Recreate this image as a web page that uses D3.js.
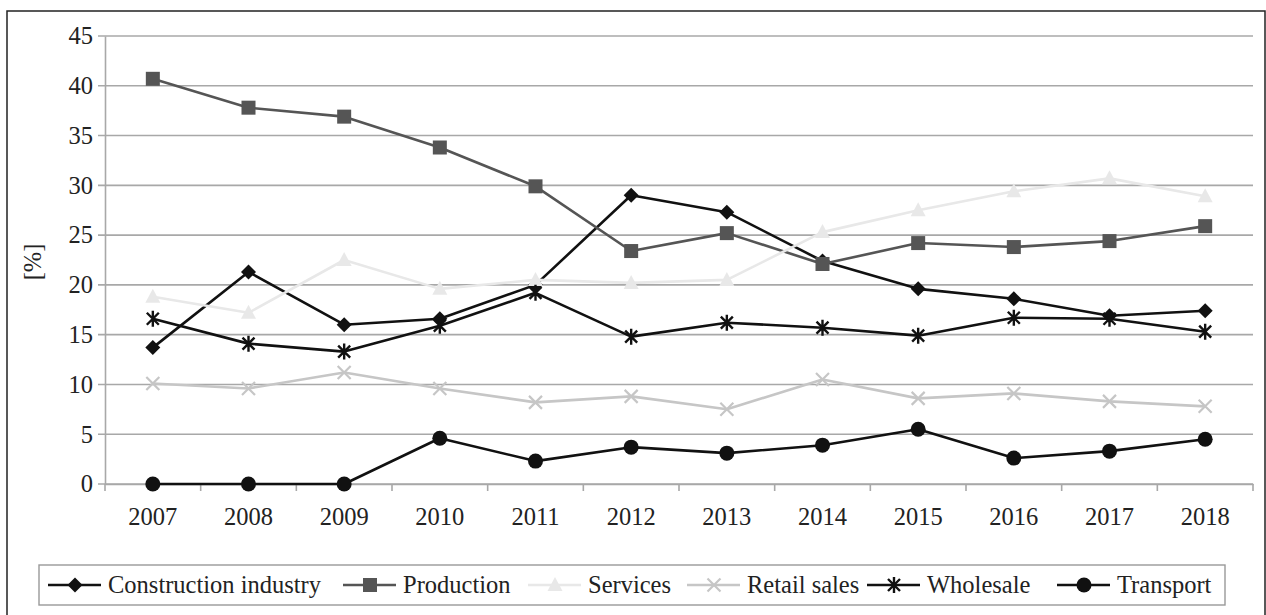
<!DOCTYPE html>
<html>
<head>
<meta charset="utf-8">
<script src="https://cdn.jsdelivr.net/npm/d3@7"></script>
<style>
	body { margin: 0; background: #fff; }
	svg text { font-family: "Liberation Serif", "Times New Roman", Times, "DejaVu Serif", serif !important; }
</style>
</head>
<body>
<div id="chart"></div>
<script>
/*
*	Data
*/
var years = ['2007', '2008', '2009', '2010', '2011', '2012', '2013', '2014', '2015', '2016', '2017', '2018'];
var yTicks = [0, 5, 10, 15, 20, 25, 30, 35, 40, 45];

var construction = [13.7, 21.3, 16.0, 16.6, 20.0, 29.0, 27.3, 22.4, 19.6, 18.6, 16.9, 17.4];
var production = [40.7, 37.8, 36.9, 33.8, 29.9, 23.4, 25.2, 22.1, 24.2, 23.8, 24.4, 25.9];
var services = [18.8, 17.2, 22.5, 19.6, 20.5, 20.2, 20.5, 25.3, 27.5, 29.4, 30.7, 28.9];
var retail = [10.1, 9.6, 11.2, 9.6, 8.2, 8.8, 7.5, 10.5, 8.6, 9.1, 8.3, 7.8];
var wholesale = [16.6, 14.1, 13.3, 15.9, 19.2, 14.8, 16.2, 15.7, 14.9, 16.7, 16.6, 15.3];
var transport = [0, 0, 0, 4.6, 2.3, 3.7, 3.1, 3.9, 5.5, 2.6, 3.3, 4.5];

var series = [
	{ name: 'Construction industry', values: construction, color: '#111', marker: 'diamond' },
	{ name: 'Production', values: production, color: '#555', marker: 'square' },
	{ name: 'Services', values: services, color: '#e8e8e8', marker: 'triangle' },
	{ name: 'Retail sales', values: retail, color: '#c6c6c6', marker: 'cross' },
	{ name: 'Wholesale', values: wholesale, color: '#111', marker: 'asterisk' },
	{ name: 'Transport', values: transport, color: '#111', marker: 'circle' }
];

var W = 1266, H = 615;
var plotL = 105, plotR = 1253, plotT = 36, plotB = 484;
var fontSize = 24.5;

var svg = d3.select('#chart').append('svg').attr('width', W).attr('height', H)
	.style('display', 'block');

// outer frame
svg.append('rect')
	.attr('x', 7).attr('y', 11)
	.attr('width', 1258).attr('height', 620)
	.attr('fill', 'none').attr('stroke', '#222').attr('stroke-width', 1.5);

var x = d3.scaleBand().domain(years).range([plotL, plotR]);
var y = d3.scaleLinear().domain([0, 45]).range([plotB, plotT]);

// grid
svg.append('g').selectAll('line').data(yTicks).join('line')
	.attr('x1', plotL - 7).attr('x2', plotR)
	.attr('y1', function (d) { return y(d); })
	.attr('y2', function (d) { return y(d); })
	.attr('stroke', '#a8a8a8').attr('stroke-width', 1.6);

// y axis
var yAxis = d3.axisLeft(y).tickValues(yTicks).tickSize(0).tickPadding(12);
var gy = svg.append('g').attr('transform', 'translate(' + plotL + ',0)').call(yAxis);
gy.select('.domain').attr('stroke', '#a8a8a8').attr('stroke-width', 1.6);
gy.selectAll('text').attr('font-size', fontSize).attr('fill', '#222');

// x axis
var xAxis = d3.axisBottom(x).tickSize(0).tickPadding(24);
var gx = svg.append('g').attr('transform', 'translate(0,' + plotB + ')').call(xAxis);
gx.select('.domain').attr('stroke', '#a8a8a8').attr('stroke-width', 1.6);
gx.selectAll('text').attr('font-size', fontSize).attr('fill', '#222');
// ticks between categories
gx.selectAll('.sep').data(d3.range(years.length + 1)).join('line')
	.attr('class', 'sep')
	.attr('x1', function (i) { return plotL + i * x.step(); })
	.attr('x2', function (i) { return plotL + i * x.step(); })
	.attr('y1', 0).attr('y2', 7)
	.attr('stroke', '#a8a8a8').attr('stroke-width', 1.6);

// y label
svg.append('text')
	.attr('transform', 'translate(41,262) rotate(-90)')
	.attr('text-anchor', 'middle')
	.attr('font-size', fontSize).attr('fill', '#222')
	.text('[%]');

function drawMarker(g, type, color) {
	if (type === 'diamond') {
		g.append('path').attr('d', 'M0,-7.5L7.5,0L0,7.5L-7.5,0Z').attr('fill', color);
	} else if (type === 'square') {
		g.append('rect').attr('x', -7).attr('y', -7).attr('width', 14).attr('height', 14).attr('fill', color);
	} else if (type === 'triangle') {
		g.append('path').attr('d', 'M0,-8L7.5,6L-7.5,6Z').attr('fill', color);
	} else if (type === 'cross') {
		g.append('path').attr('d', 'M-6.5,-6.5L6.5,6.5M6.5,-6.5L-6.5,6.5')
			.attr('stroke', color).attr('stroke-width', 2.2).attr('fill', 'none');
	} else if (type === 'asterisk') {
		g.append('path').attr('d', 'M-6,-6L6,6M6,-6L-6,6M0,-8L0,8')
			.attr('stroke', color).attr('stroke-width', 2.4).attr('fill', 'none');
	} else if (type === 'circle') {
		g.append('circle').attr('r', 7.5).attr('fill', color);
	}
}

var line = d3.line()
	.x(function (d, i) { return x(years[i]) + x.bandwidth() / 2; })
	.y(function (d) { return y(d); });

series.forEach(function (s) {
	var g = svg.append('g');
	g.append('path')
		.datum(s.values)
		.attr('d', line)
		.attr('fill', 'none')
		.attr('stroke', s.color)
		.attr('stroke-width', 2.6)
		.attr('stroke-linejoin', 'round');
	s.values.forEach(function (v, i) {
		var m = g.append('g')
			.attr('transform', 'translate(' + (x(years[i]) + x.bandwidth() / 2) + ',' + y(v) + ')');
		drawMarker(m, s.marker, s.color);
	});
});

/*
*	Legend
*/
var legend = svg.append('g');
legend.append('rect')
	.attr('x', 39).attr('y', 565)
	.attr('width', 1186).attr('height', 40)
	.attr('fill', '#fff').attr('stroke', '#999').attr('stroke-width', 1.4);

var legendX = [48, 343, 528, 687, 867, 1057];
series.forEach(function (s, i) {
	var lg = legend.append('g').attr('transform', 'translate(' + legendX[i] + ',585)');
	lg.append('line').attr('x1', 0).attr('x2', 53).attr('y1', 0).attr('y2', 0)
		.attr('stroke', s.color).attr('stroke-width', 2.6);
	var m = lg.append('g').attr('transform', 'translate(27,0)');
	drawMarker(m, s.marker, s.color);
	lg.append('text')
		.attr('x', 60).attr('y', 8)
		.attr('font-size', fontSize).attr('fill', '#222')
		.text(s.name);
});
</script>
</body>
</html>
